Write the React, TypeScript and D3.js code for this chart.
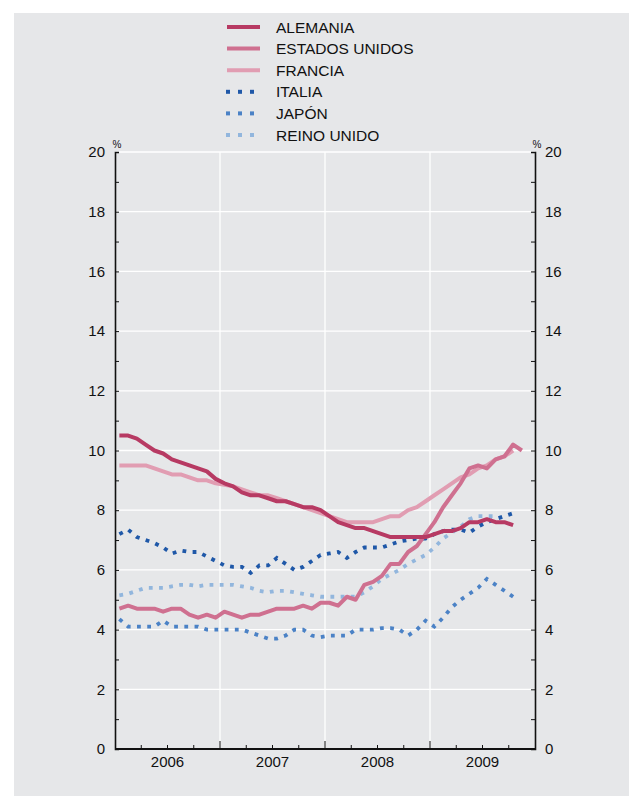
import { useEffect, useRef } from 'react';
import * as d3 from 'd3';

// monthly values, Jan 2006 onward (%)
const alemania = [
  10.5, 10.5, 10.4, 10.2, 10.0, 9.9, 9.7, 9.6, 9.5, 9.4, 9.3, 9.05,
  8.9, 8.8, 8.6, 8.5, 8.5, 8.4, 8.3, 8.3, 8.2, 8.1, 8.1, 8.0,
  7.8, 7.6, 7.5, 7.4, 7.4, 7.3, 7.2, 7.1, 7.1, 7.1, 7.1, 7.1,
  7.2, 7.3, 7.3, 7.4, 7.6, 7.6, 7.7, 7.6, 7.6, 7.5,
];
const estadosUnidos = [
  4.7, 4.8, 4.7, 4.7, 4.7, 4.6, 4.7, 4.7, 4.5, 4.4, 4.5, 4.4,
  4.6, 4.5, 4.4, 4.5, 4.5, 4.6, 4.7, 4.7, 4.7, 4.8, 4.7, 4.9,
  4.9, 4.8, 5.1, 5.0, 5.5, 5.6, 5.8, 6.2, 6.2, 6.6, 6.8, 7.2,
  7.6, 8.1, 8.5, 8.9, 9.4, 9.5, 9.4, 9.7, 9.8, 10.2, 10.0,
];
const francia = [
  9.5, 9.5, 9.5, 9.5, 9.4, 9.3, 9.2, 9.2, 9.1, 9.0, 9.0, 8.9,
  8.85, 8.8, 8.7, 8.6, 8.5, 8.5, 8.4, 8.3, 8.2, 8.1, 8.0, 7.9,
  7.8, 7.7, 7.6, 7.6, 7.6, 7.6, 7.7, 7.8, 7.8, 8.0, 8.1, 8.3,
  8.5, 8.7, 8.9, 9.1, 9.2, 9.4, 9.5, 9.7, 9.8, 10.0,
];
const italia = [
  7.2, 7.35, 7.1, 7.0, 6.9, 6.75, 6.55, 6.65, 6.6, 6.6, 6.45, 6.3,
  6.15, 6.1, 6.1, 5.9, 6.15, 6.15, 6.4, 6.2, 6.0, 6.1, 6.3, 6.5,
  6.55, 6.6, 6.4, 6.6, 6.75, 6.75, 6.75, 6.85, 6.95, 7.0, 7.05, 7.05,
  7.2, 7.3, 7.35, 7.35, 7.25, 7.45, 7.6, 7.7, 7.8, 7.9,
];
const japon = [
  4.35, 4.1, 4.1, 4.1, 4.1, 4.3, 4.1, 4.1, 4.1, 4.1, 4.0, 4.0,
  4.0, 4.0, 4.0, 3.9, 3.8, 3.7, 3.7, 3.8, 4.0, 4.0, 3.8, 3.75,
  3.8, 3.8, 3.8, 4.0, 4.0, 4.0, 4.05, 4.05, 4.0, 3.8, 4.0, 4.3,
  4.1, 4.4, 4.75, 5.0, 5.2, 5.4, 5.7, 5.5, 5.3, 5.1,
];
const reinoUnido = [
  5.15, 5.2, 5.3, 5.4, 5.4, 5.4, 5.45, 5.5, 5.5, 5.45, 5.5, 5.5,
  5.5, 5.5, 5.45, 5.4, 5.3, 5.25, 5.3, 5.3, 5.25, 5.2, 5.15, 5.1,
  5.1, 5.1, 5.1, 5.1, 5.25, 5.45, 5.7, 5.85, 6.0, 6.2, 6.35, 6.5,
  6.75, 7.05, 7.25, 7.45, 7.7, 7.8, 7.8, 7.8,
];

const years = ['2006', '2007', '2008', '2009'];
const yTicks = [0, 2, 4, 6, 8, 10, 12, 14, 16, 18, 20];

const series = [
  { name: 'ALEMANIA', values: alemania, color: '#b73a63', dotted: false },
  { name: 'ESTADOS UNIDOS', values: estadosUnidos, color: '#cf7090', dotted: false },
  { name: 'FRANCIA', values: francia, color: '#e19db2', dotted: false },
  { name: 'ITALIA', values: italia, color: '#1f58a8', dotted: true },
  { name: 'JAPÓN', values: japon, color: '#4b82c6', dotted: true },
  { name: 'REINO UNIDO', values: reinoUnido, color: '#92b6dd', dotted: true },
];

const FONT = 'Liberation Sans, Arial, Helvetica, sans-serif';

export default function App() {
  const svgRef = useRef<SVGSVGElement>(null);

  useEffect(() => {
    if (!svgRef.current) return;
    const svg = d3.select(svgRef.current);
    svg.selectAll('*').remove();

    const W = 629;
    const H = 796;
    const left = 115;
    const right = 535;
    const top = 152;
    const bottom = 749;

    // background panel
    svg.append('rect').attr('width', W).attr('height', H).attr('fill', '#ffffff');
    svg
      .append('rect')
      .attr('x', 14)
      .attr('y', 13)
      .attr('width', W - 14)
      .attr('height', H - 13)
      .attr('fill', '#e6e7e9');

    // scales
    const x = d3.scaleLinear().domain([0, 48]).range([left, right]);
    const y = d3.scaleLinear().domain([0, 20]).range([bottom, top]);

    // white grid lines
    svg
      .append('g')
      .selectAll('line')
      .data(yTicks.filter((d) => d > 0))
      .enter()
      .append('line')
      .attr('x1', left)
      .attr('x2', right)
      .attr('y1', (d) => y(d))
      .attr('y2', (d) => y(d))
      .attr('stroke', '#ffffff')
      .attr('stroke-width', 1.3);

    svg
      .append('g')
      .selectAll('line')
      .data([12, 24, 36])
      .enter()
      .append('line')
      .attr('x1', (d) => x(d))
      .attr('x2', (d) => x(d))
      .attr('y1', top)
      .attr('y2', bottom)
      .attr('stroke', '#ffffff')
      .attr('stroke-width', 1.3);

    // left axis
    const leftAxis = svg
      .append('g')
      .attr('transform', `translate(${left},0)`)
      .call(
        d3
          .axisRight(y)
          .ticks(20)
          .tickSize(4)
          .tickFormat(() => '')
      );
    leftAxis.select('.domain').attr('stroke', '#111').attr('stroke-width', 1.6);
    leftAxis.selectAll('.tick line').attr('stroke', '#111').attr('stroke-width', 1);

    // right axis
    const rightAxis = svg
      .append('g')
      .attr('transform', `translate(${right},0)`)
      .call(
        d3
          .axisLeft(y)
          .ticks(20)
          .tickSize(4)
          .tickFormat(() => '')
      );
    rightAxis.select('.domain').attr('stroke', '#111').attr('stroke-width', 1.6);
    rightAxis.selectAll('.tick line').attr('stroke', '#111').attr('stroke-width', 1);

    // y labels both sides
    const labels = svg.append('g').style('font-family', FONT).style('font-size', '15px').attr('fill', '#111');
    labels
      .selectAll('text.l')
      .data(yTicks)
      .enter()
      .append('text')
      .attr('class', 'l')
      .attr('x', left - 10)
      .attr('y', (d) => y(d))
      .attr('dy', '0.35em')
      .attr('text-anchor', 'end')
      .text((d) => d);
    labels
      .selectAll('text.r')
      .data(yTicks)
      .enter()
      .append('text')
      .attr('class', 'r')
      .attr('x', right + 10)
      .attr('y', (d) => y(d))
      .attr('dy', '0.35em')
      .attr('text-anchor', 'start')
      .text((d) => d);

    // % units
    [left + 2, right + 2].forEach((px) => {
      svg
        .append('text')
        .attr('x', px)
        .attr('y', top - 4)
        .attr('text-anchor', 'middle')
        .style('font-family', FONT)
        .style('font-size', '10px')
        .attr('fill', '#111')
        .text('%');
    });

    // x axis: quarters minor, years major
    const quarterTicks = d3.range(3, 48, 3).filter((d) => d % 12 !== 0);
    svg
      .append('g')
      .selectAll('line')
      .data(quarterTicks)
      .enter()
      .append('line')
      .attr('x1', (d) => x(d))
      .attr('x2', (d) => x(d))
      .attr('y1', bottom)
      .attr('y2', bottom - 4)
      .attr('stroke', '#111')
      .attr('stroke-width', 1);
    svg
      .append('g')
      .selectAll('line')
      .data([12, 24, 36])
      .enter()
      .append('line')
      .attr('x1', (d) => x(d))
      .attr('x2', (d) => x(d))
      .attr('y1', bottom)
      .attr('y2', bottom - 8)
      .attr('stroke', '#111')
      .attr('stroke-width', 1);
    svg
      .append('line')
      .attr('x1', left)
      .attr('x2', right)
      .attr('y1', bottom)
      .attr('y2', bottom)
      .attr('stroke', '#111')
      .attr('stroke-width', 2);

    svg
      .append('g')
      .selectAll('text')
      .data(years)
      .enter()
      .append('text')
      .attr('x', (d, i) => x(i * 12 + 6))
      .attr('y', bottom + 18)
      .attr('text-anchor', 'middle')
      .style('font-family', FONT)
      .style('font-size', '15px')
      .attr('fill', '#111')
      .text((d) => d);

    // lines
    const line = d3
      .line<number>()
      .x((d, i) => x(i + 0.5))
      .y((d) => y(d));

    const drawOrder = [5, 4, 3, 2, 1, 0];
    drawOrder.forEach((k) => {
      const s = series[k];
      const p = svg
        .append('path')
        .datum(s.values)
        .attr('fill', 'none')
        .attr('stroke', s.color)
        .attr('d', line);
      if (s.dotted) {
        p.attr('stroke-width', 3.8).attr('stroke-dasharray', '3.8 6.4').attr('stroke-linecap', 'butt');
      } else {
        p.attr('stroke-width', 4).attr('stroke-linejoin', 'round');
      }
    });

    // legend
    const legend = svg.append('g');
    series.forEach((s, i) => {
      const ly = 27 + i * 21.6;
      const row = legend.append('g').attr('transform', `translate(0,${ly})`);
      if (s.dotted) {
        row
          .selectAll('rect')
          .data([0, 1, 2])
          .enter()
          .append('rect')
          .attr('x', (d) => 226 + d * 12)
          .attr('y', -2)
          .attr('width', 4)
          .attr('height', 4)
          .attr('fill', s.color);
      } else {
        row
          .append('line')
          .attr('x1', 227)
          .attr('x2', 260)
          .attr('y1', 0)
          .attr('y2', 0)
          .attr('stroke', s.color)
          .attr('stroke-width', 4);
      }
      row
        .append('text')
        .attr('x', 276)
        .attr('y', 0)
        .attr('dy', '0.36em')
        .style('font-family', FONT)
        .style('font-size', '15.5px')
        .attr('fill', '#111')
        .text(s.name);
    });
  }, []);

  return (
    <svg
      ref={svgRef}
      width={629}
      height={796}
      style={{ position: 'absolute', left: 0, top: 0, display: 'block' }}
    ></svg>
  );
}
